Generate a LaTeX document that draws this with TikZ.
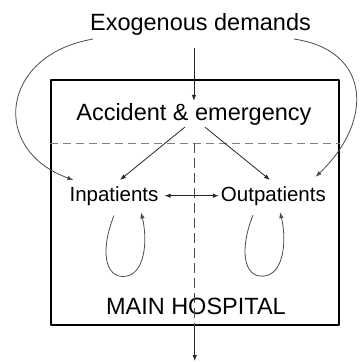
\documentclass[tikz,border=0pt]{standalone}
\usepackage{fontspec}
\setmainfont{Liberation Sans}
\usetikzlibrary{arrows.meta}
\begin{document}
\begin{tikzpicture}[x=1pt, y=-1pt, line join=round,
  tip/.style={-{Latex[length=6pt,width=4.5pt]}},
  arr/.style={tip, line width=0.8pt, black!85},
  loopy/.style={tip, line width=0.8pt, black!70},
  lbl/.style={anchor=base, inner sep=2pt, font=\fontsize{23.5}{28}\selectfont},
  sublbl/.style={lbl, font=\fontsize{20.5}{24}\selectfont}]
\useasboundingbox (0,0) rectangle (362,362);
% main hospital frame
\node[draw, line width=2pt, minimum width=287.5pt, minimum height=245.5pt, inner sep=0pt] (hosp) at (194.75,202.25) {};
\coordinate (split) at (194.75,143);
\coordinate (exit) at (194.75,361);
% labels
\node[lbl] (exo) at (200.5,30) {Exogenous demands};
\node[lbl] (ae) at (193.9,120) {Accident \& emergency};
\node[sublbl] (inpat) at (114,201) {Inpatients};
\node[sublbl] (outpat) at (273.4,201) {Outpatients};
\node[lbl] (main) at (195.9,314) {MAIN HOSPITAL};
% dashed divisions
\draw[gray, line width=1pt, dash pattern=on 8pt off 5pt] (hosp.west |- split) -- (hosp.east |- split);
\draw[black!70, line width=1pt, dash pattern=on 10pt off 5pt] (split) -- (hosp.south);
% flows
\draw[arr, shorten <=11pt] (ae.north |- exo.south) -- (ae.north);
\draw[arr] (hosp.south) -- (exit);
\draw[arr] ([shift={(-9,0)}]ae.south) -- ([shift={(6,-4)}]inpat.north);
\draw[arr] ([shift={(11,0)}]ae.south) -- ([shift={(-3.4,-4)}]outpat.north);
\draw[arr, {Latex[length=6pt,width=4.5pt]}-{Latex[length=6pt,width=4.5pt]}, shorten <=4pt] (inpat.east) -- (outpat.west);
\draw[loopy] ([shift={(5,2)}]exo.south west) .. controls (0,55) and (-10,150) .. ([shift={(6,-4)}]inpat.north west);
\draw[loopy] ([shift={(-19,2)}]exo.south east) .. controls (370,50) and (375,120) .. ([shift={(-12.5,-7)}]outpat.north east);
% internal loops
\draw[loopy] ([shift={(0,8)}]inpat.south) .. controls +(-14,35) and +(-19,1) .. ++(10,61) .. controls +(21,-1) and +(7,28) .. ++(17,-64);
\draw[loopy] ([shift={(-20.4,7.7)}]outpat.south) .. controls +(-14,35) and +(-19,1) .. ++(10,61) .. controls +(21,-1) and +(7,28) .. ++(17,-64);
\end{tikzpicture}
\end{document}
